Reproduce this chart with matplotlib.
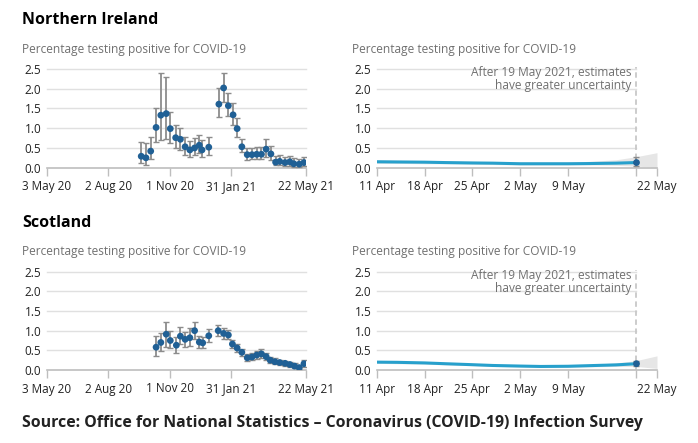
import matplotlib
matplotlib.use("Agg")
import matplotlib.pyplot as plt
import numpy as np
import pandas as pd

plt.rcParams['font.family'] = ['Open Sans', 'DejaVu Sans']

# ---------------- data ----------------
ni_dates = ["2020-09-20", "2020-09-27", "2020-10-04", "2020-10-12", "2020-10-19", "2020-10-27",
            "2020-11-02", "2020-11-10", "2020-11-17", "2020-11-24", "2020-12-01", "2020-12-08",
            "2020-12-15", "2020-12-19", "2020-12-29", "2021-01-13", "2021-01-20", "2021-01-27",
            "2021-02-03", "2021-02-09", "2021-02-16", "2021-02-24", "2021-03-03", "2021-03-10",
            "2021-03-17", "2021-03-24", "2021-03-31", "2021-04-07", "2021-04-13", "2021-04-21",
            "2021-04-28", "2021-05-04", "2021-05-12", "2021-05-19"]
ni_value = [0.29, 0.25, 0.42, 1.02, 1.33, 1.37, 0.99, 0.76, 0.72, 0.53, 0.45, 0.50,
            0.57, 0.45, 0.52, 1.61, 2.02, 1.57, 1.34, 0.99, 0.53, 0.33, 0.33, 0.34,
            0.34, 0.47, 0.35, 0.14, 0.16, 0.13, 0.15, 0.10, 0.09, 0.13]
ni_lower = [0.11, 0.08, 0.21, 0.66, 0.70, 0.72, 0.63, 0.49, 0.45, 0.32, 0.28, 0.32,
            0.36, 0.28, 0.32, 1.28, 1.67, 1.31, 1.08, 0.79, 0.39, 0.19, 0.21, 0.21,
            0.21, 0.28, 0.19, 0.07, 0.07, 0.05, 0.05, 0.03, 0.03, 0.05]
ni_upper = [0.66, 0.62, 0.79, 1.50, 2.39, 2.31, 1.42, 1.08, 1.01, 0.79, 0.68, 0.74,
            0.83, 0.70, 0.78, 2.01, 2.39, 1.88, 1.63, 1.25, 0.72, 0.49, 0.51, 0.52,
            0.52, 0.72, 0.56, 0.30, 0.32, 0.28, 0.30, 0.24, 0.21, 0.28]

sc_dates = ["2020-10-12", "2020-10-19", "2020-10-27", "2020-11-02", "2020-11-11", "2020-11-17",
            "2020-11-24", "2020-12-01", "2020-12-08", "2020-12-15", "2020-12-20", "2020-12-29",
            "2021-01-12", "2021-01-20", "2021-01-27", "2021-02-02", "2021-02-09", "2021-02-16",
            "2021-02-24", "2021-03-03", "2021-03-10", "2021-03-17", "2021-03-24", "2021-03-30",
            "2021-04-06", "2021-04-13", "2021-04-21", "2021-04-28", "2021-05-05", "2021-05-12",
            "2021-05-19"]
sc_value = [0.58, 0.70, 0.91, 0.75, 0.63, 0.86, 0.78, 0.82, 1.00, 0.71, 0.69, 0.87,
            1.00, 0.93, 0.89, 0.66, 0.56, 0.45, 0.31, 0.33, 0.38, 0.41, 0.34, 0.25,
            0.21, 0.19, 0.17, 0.14, 0.10, 0.06, 0.16]
sc_lower = [0.36, 0.49, 0.59, 0.55, 0.44, 0.66, 0.59, 0.61, 0.78, 0.55, 0.55, 0.72,
            0.86, 0.80, 0.78, 0.55, 0.46, 0.36, 0.24, 0.25, 0.28, 0.30, 0.25, 0.17,
            0.14, 0.13, 0.11, 0.08, 0.04, 0.02, 0.08]
sc_upper = [0.87, 0.93, 1.23, 1.00, 0.83, 1.10, 0.97, 1.06, 1.23, 0.86, 0.85, 1.04,
            1.14, 1.06, 1.02, 0.76, 0.66, 0.54, 0.41, 0.42, 0.49, 0.53, 0.44, 0.34,
            0.30, 0.25, 0.24, 0.21, 0.17, 0.12, 0.25]

recent_dates = ["2021-04-11", "2021-04-14", "2021-04-18", "2021-04-21", "2021-04-25", "2021-04-28",
                "2021-05-02", "2021-05-05", "2021-05-09", "2021-05-12", "2021-05-16", "2021-05-19",
                "2021-05-22"]
ni_recent = [0.15, 0.145, 0.14, 0.13, 0.12, 0.115, 0.10, 0.10, 0.10, 0.105, 0.115, 0.13, None]
ni_recent_lo = [0.11, 0.11, 0.10, 0.10, 0.09, 0.08, 0.07, 0.07, 0.07, 0.07, 0.06, 0.04, 0.01]
ni_recent_hi = [0.20, 0.19, 0.18, 0.17, 0.16, 0.15, 0.14, 0.14, 0.14, 0.16, 0.20, 0.28, 0.38]
sc_recent = [0.20, 0.195, 0.18, 0.16, 0.135, 0.115, 0.10, 0.09, 0.095, 0.11, 0.13, 0.16, None]
sc_recent_lo = [0.17, 0.16, 0.15, 0.13, 0.11, 0.09, 0.08, 0.07, 0.07, 0.08, 0.09, 0.09, 0.04]
sc_recent_hi = [0.23, 0.22, 0.21, 0.19, 0.16, 0.14, 0.12, 0.11, 0.12, 0.14, 0.18, 0.24, 0.36]

long_ticks = ["2020-05-03", "2020-08-02", "2020-11-01", "2021-01-31", "2021-05-22"]
long_tick_labels = ["3 May 20", "2 Aug 20", "1 Nov 20", "31 Jan 21", "22 May 21"]
short_ticks = ["2021-04-11", "2021-04-18", "2021-04-25", "2021-05-02", "2021-05-09", "2021-05-19", "2021-05-22"]
short_tick_labels = ["11 Apr", "18 Apr", "25 Apr", "2 May", "9 May", "", "22 May"]
y_ticks = [0.0, 0.5, 1.0, 1.5, 2.0, 2.5]
cutoff = "2021-05-19"
note_lines = ["After 19 May 2021, estimates", "have greater uncertainty"]

DARK = "#206095"
LIGHT = "#27a0cc"
GRID = "#e0e0e0"
AXIS = "#bebebe"
SUBTXT = "#707070"
TXT = "#222222"

W, H = 698, 443
fig = plt.figure(figsize=(W / 100, H / 100), dpi=100)


def ax_at(l, t, r, b):
    return fig.add_axes([l / W, 1 - b / H, (r - l) / W, (b - t) / H])


def style(ax, xmin, xmax, grid_end, ticks, labels):
    ax.set_ylim(0, 2.5)
    ax.set_xlim(pd.Timestamp(xmin), pd.Timestamp(xmax))
    for s in ax.spines.values():
        s.set_visible(False)
    for yv in y_ticks[1:]:
        ax.plot([pd.Timestamp(xmin), pd.Timestamp(grid_end)], [yv, yv], color=GRID, lw=1,
                zorder=0, clip_on=False)
    ax.plot([pd.Timestamp(xmin), pd.Timestamp(xmax)], [0, 0], color=AXIS, lw=1.2, zorder=1,
            clip_on=False)
    ax.set_yticks(y_ticks)
    ax.set_yticklabels([f"{v:.1f}" for v in y_ticks])
    ax.set_xticks([pd.Timestamp(d) for d in ticks])
    ax.set_xticklabels(labels)
    ax.tick_params(axis='y', length=0, pad=4, labelsize=8.5, labelcolor=TXT)
    ax.tick_params(axis='x', length=6, width=1, color=AXIS, pad=3, labelsize=8.5, labelcolor=TXT)
    ax.patch.set_visible(False)


def long_panel(ax, dates, val, lo, hi):
    d = pd.to_datetime(dates)
    v = np.array(val)
    yerr = np.vstack([v - np.array(lo), np.array(hi) - v])
    ax.errorbar(d, v, yerr=yerr, fmt='none', ecolor="#8c8c8c", elinewidth=1.3, capsize=2.5,
                capthick=1, zorder=2)
    ax.scatter(d, v, s=24, color=DARK, zorder=3, edgecolors='none')
    style(ax, "2020-05-03", "2021-05-22", "2021-05-22", long_ticks, long_tick_labels)


def short_panel(ax, val, lo, hi):
    d = pd.to_datetime(recent_dates)
    ax.fill_between(d, lo, hi, color="#e6e6e6", lw=0, zorder=1)
    dl = d[:-1]
    vl = np.array(val[:-1], dtype=float)
    ax.plot(dl, vl, color=LIGHT, lw=2.2, zorder=2, solid_capstyle='round')
    cd = pd.Timestamp(cutoff)
    vc = vl[-1]
    ax.errorbar([cd], [vc], yerr=[[vc - lo[-2]], [hi[-2] - vc]], fmt='none', ecolor="#8c8c8c",
                elinewidth=1.2, capsize=2.5, capthick=1, zorder=3)
    ax.scatter([cd], [vc], s=24, color=DARK, zorder=4, edgecolors='none')
    ax.plot([cd, cd], [0, 2.55], color="#c8c8c8", lw=1.3, ls=(0, (3, 2)), zorder=1, clip_on=False)
    tx = pd.Timestamp("2021-05-18 06:00")
    ax.text(tx, 2.405, note_lines[0], ha='right', va='center', fontsize=8.6, color=SUBTXT)
    ax.text(tx, 2.07, note_lines[1], ha='right', va='center', fontsize=8.6, color=SUBTXT)
    style(ax, "2021-04-11", "2021-05-22", cutoff, short_ticks, short_tick_labels)


ax1 = ax_at(46.7, 69, 306, 167.7)
long_panel(ax1, ni_dates, ni_value, ni_lower, ni_upper)
ax2 = ax_at(376.7, 69, 657, 167.7)
short_panel(ax2, ni_recent, ni_recent_lo, ni_recent_hi)
ax3 = ax_at(46.7, 271.7, 306, 370)
long_panel(ax3, sc_dates, sc_value, sc_lower, sc_upper)
ax4 = ax_at(376.7, 271.7, 657, 370)
short_panel(ax4, sc_recent, sc_recent_lo, sc_recent_hi)

fig.text(22 / W, 1 - 20 / H, "Northern Ireland", fontsize=11.5, fontweight='bold', color="#000000",
         ha='left', va='center')
fig.text(22 / W, 1 - 222.7 / H, "Scotland", fontsize=11.5, fontweight='bold', color="#000000",
         ha='left', va='center')
for x, y in [(22, 49), (351.7, 49), (22, 251.7), (351.7, 251.7)]:
    fig.text(x / W, 1 - y / H, "Percentage testing positive for COVID-19", fontsize=8.6,
             color=SUBTXT, ha='left', va='center')
fig.text(22 / W, 1 - 423 / H,
         "Source: Office for National Statistics \u2013 Coronavirus (COVID-19) Infection Survey",
         fontsize=11.4, fontweight='bold', color="#222222", ha='left', va='center')

fig.savefig("out.png", dpi=100)
